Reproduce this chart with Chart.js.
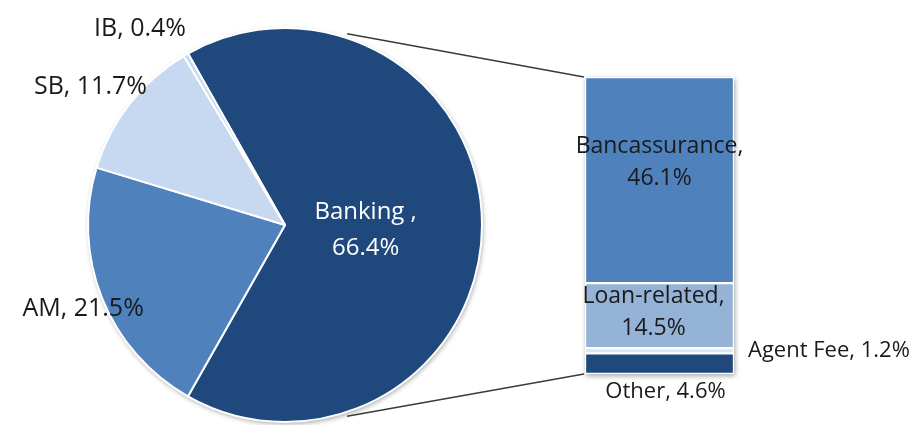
<!DOCTYPE html>
<html>
<head>
<meta charset="utf-8">
<title>Fee income breakdown</title>
<script src="https://cdn.jsdelivr.net/npm/chart.js@4.4.1/dist/chart.umd.min.js"></script>
<style>
  html, body { margin: 0; padding: 0; background: #fff; }
  #wrap { position: relative; width: 911px; height: 425px; }
  #wrap canvas { position: absolute; left: 0; top: 0; }
</style>
</head>
<body>
<div id="wrap">
  <canvas id="pieChart" width="911" height="425"></canvas>
  <canvas id="barChart" width="911" height="425"></canvas>
</div>
<script>
// pie: whole business, bar: breakdown of Banking
var pieLabels = ['Banking', 'AM', 'SB', 'IB'];
var pieValues = [66.4, 21.5, 11.7, 0.4];
var barLabels = ['Other', 'Agent Fee', 'Loan-related', 'Bancassurance'];
var barValues = [4.6, 1.2, 14.5, 46.1];

var pieColors = ['#1F497D', '#4F81BD', '#C6D9F1', '#C6D9F1'];
var barColors = ['#1F497D', '#DCE6F2', '#95B3D7', '#4F81BD'];

// label spots: [angle from top in degrees, distance as share of radius]
var pieLabelSpot = [[93.5, 0.41], [-112.6, 1.11], [-54.7, 1.21], [-36.4, 1.24]];
var barLabelMode = ['below', 'right', 'inside', 'inside'];
var barLabelNudge = [[6, 18], [14, 0], [-6, -3], [0, -18]];

var FONT = '"Open Sans", "Noto Sans", sans-serif';

function pct(v) {
  return v.toFixed(1) + '%';
}

var pieShadow = {
  id: 'pieShadow',
  beforeDatasetsDraw: function (chart) {
    var arc = chart.getDatasetMeta(0).data[0];
    var ctx = chart.ctx;
    ctx.save();
    ctx.shadowColor = 'rgba(0,0,0,0.35)';
    ctx.shadowBlur = 5;
    ctx.shadowOffsetX = 1;
    ctx.shadowOffsetY = 2;
    ctx.fillStyle = '#fff';
    ctx.beginPath();
    ctx.arc(arc.x, arc.y, arc.outerRadius, 0, Math.PI * 2);
    ctx.fill();
    ctx.restore();
  }
};

var pieText = {
  id: 'pieText',
  afterDatasetsDraw: function (chart) {
    var ctx = chart.ctx;
    var arcs = chart.getDatasetMeta(0).data;
    ctx.save();
    ctx.textAlign = 'center';
    ctx.textBaseline = 'middle';
    arcs.forEach(function (arc, i) {
      var a = pieLabelSpot[i][0] * Math.PI / 180;
      var d = pieLabelSpot[i][1] * arc.outerRadius;
      var x = arc.x + Math.sin(a) * d;
      var y = arc.y - Math.cos(a) * d;
      if (i === 0) {
        ctx.font = '24px ' + FONT;
        ctx.fillStyle = '#fff';
        ctx.fillText(pieLabels[i] + ' ,', x, y - 18);
        ctx.fillText(pct(pieValues[i]), x, y + 18);
      } else {
        ctx.font = '25px ' + FONT;
        ctx.fillStyle = '#1a1a1a';
        ctx.fillText(pieLabels[i] + ', ' + pct(pieValues[i]), x, y);
      }
    });
    ctx.restore();
  }
};

var pieChart = new Chart(document.getElementById('pieChart'), {
  type: 'pie',
  data: {
    labels: pieLabels,
    datasets: [{
      data: pieValues,
      backgroundColor: pieColors,
      borderColor: '#fff',
      borderWidth: 2,
      radius: 197
    }]
  },
  options: {
    responsive: false,
    animation: false,
    rotation: -29.5,
    layout: { padding: { left: 88, right: 429, top: 30, bottom: 5 } },
    plugins: {
      legend: { display: false },
      tooltip: { enabled: false }
    }
  },
  plugins: [pieShadow, pieText]
});

var barShadow = {
  id: 'barShadow',
  beforeDatasetsDraw: function (chart) {
    var area = chart.chartArea;
    var ctx = chart.ctx;
    ctx.save();
    ctx.shadowColor = 'rgba(0,0,0,0.35)';
    ctx.shadowBlur = 5;
    ctx.shadowOffsetX = 1;
    ctx.shadowOffsetY = 2;
    ctx.fillStyle = '#fff';
    ctx.fillRect(area.left, area.top, area.right - area.left, area.bottom - area.top);
    ctx.restore();
  }
};

var barText = {
  id: 'barText',
  afterDatasetsDraw: function (chart) {
    var ctx = chart.ctx;
    ctx.save();
    ctx.textBaseline = 'middle';
    ctx.fillStyle = '#1a1a1a';
    barLabels.forEach(function (label, i) {
      var bar = chart.getDatasetMeta(i).data[0];
      var midY = (bar.y + bar.base) / 2 + barLabelNudge[i][1];
      var nx = barLabelNudge[i][0];
      if (barLabelMode[i] === 'inside') {
        ctx.font = '23px ' + FONT;
        ctx.textAlign = 'center';
        ctx.fillText(label + ',', bar.x + nx, midY - 16);
        ctx.fillText(pct(barValues[i]), bar.x + nx, midY + 16);
      } else if (barLabelMode[i] === 'right') {
        ctx.font = '22px ' + FONT;
        ctx.textAlign = 'left';
        ctx.fillText(label + ', ' + pct(barValues[i]), bar.x + bar.width / 2 + nx, midY);
      } else {
        ctx.font = '22px ' + FONT;
        ctx.textAlign = 'center';
        ctx.fillText(label + ', ' + pct(barValues[i]), bar.x + nx, bar.base + barLabelNudge[i][1]);
      }
    });
    ctx.restore();
  }
};

// series lines from the Banking slice to the bar corners
var connectors = {
  id: 'connectors',
  afterDraw: function (chart) {
    var arc = pieChart.getDatasetMeta(0).data[0];
    var mid = (arc.startAngle + arc.endAngle) / 2;
    var spread = 72 * Math.PI / 180;
    var r = arc.outerRadius + 4;
    var area = chart.chartArea;
    var ctx = chart.ctx;
    ctx.save();
    ctx.strokeStyle = '#3a3a3a';
    ctx.lineWidth = 1.5;
    ctx.beginPath();
    ctx.moveTo(arc.x + Math.cos(mid - spread) * r, arc.y + Math.sin(mid - spread) * r);
    ctx.lineTo(area.left - 1, area.top);
    ctx.moveTo(arc.x + Math.cos(mid + spread) * r, arc.y + Math.sin(mid + spread) * r);
    ctx.lineTo(area.left - 1, area.bottom);
    ctx.stroke();
    ctx.restore();
  }
};

var barTotal = barValues.reduce(function (a, b) { return a + b; }, 0);

var barChart = new Chart(document.getElementById('barChart'), {
  type: 'bar',
  data: {
    labels: ['Banking'],
    datasets: barLabels.map(function (label, i) {
      return {
        label: label,
        data: [barValues[i]],
        backgroundColor: barColors[i],
        borderColor: '#fff',
        borderWidth: 1.5,
        borderSkipped: false,
        barPercentage: 1,
        categoryPercentage: 1
      };
    })
  },
  options: {
    responsive: false,
    animation: false,
    layout: { padding: { left: 585, right: 177, top: 77, bottom: 51 } },
    scales: {
      x: { stacked: true, display: false },
      y: { stacked: true, display: false, min: 0, max: barTotal }
    },
    plugins: {
      legend: { display: false },
      tooltip: { enabled: false }
    }
  },
  plugins: [barShadow, barText, connectors]
});
</script>
</body>
</html>
